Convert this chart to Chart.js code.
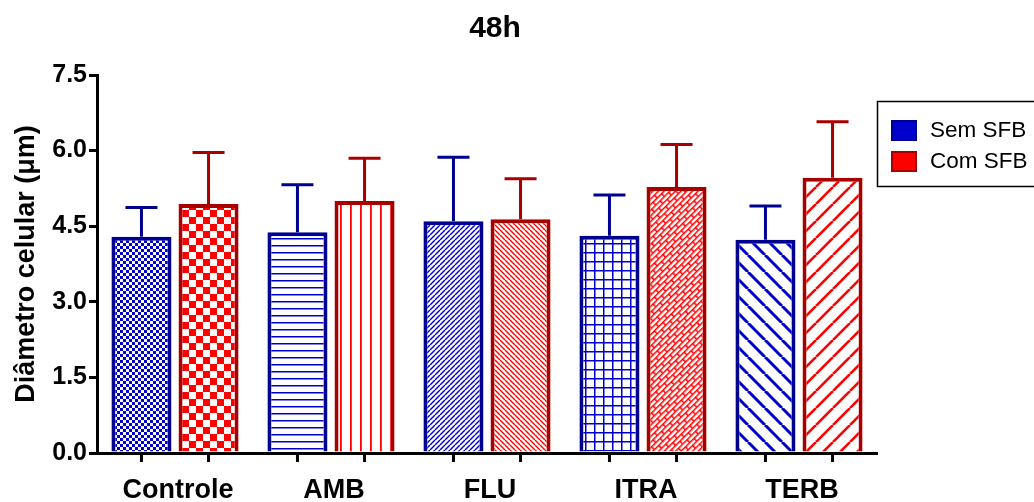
<!DOCTYPE html>
<html>
<head>
<meta charset="utf-8">
<title>48h</title>
<script src="https://cdn.jsdelivr.net/npm/chart.js@4/dist/chart.umd.min.js"></script>
<style>
  body { margin: 0; background: #fff; }
  #wrap { width: 1034px; height: 502px; }
</style>
</head>
<body>
<div id="wrap"><canvas id="chart" width="1034" height="502"></canvas></div>
<script>
const titulo = '48h';
const categorias = ['Controle', 'AMB', 'FLU', 'ITRA', 'TERB'];
const series = ['Sem SFB', 'Com SFB'];
const semSFB = [4.29, 4.38, 4.60, 4.31, 4.23];
const semSFBdp = [0.58, 0.94, 1.27, 0.81, 0.67];
const comSFB = [4.94, 5.00, 4.64, 5.28, 5.46];
const comSFBdp = [1.02, 0.85, 0.80, 0.84, 1.11];
const yTicks = [0, 1.5, 3.0, 4.5, 6.0, 7.5];

const AZUL = '#0000cc', AZUL_ESC = '#000090';
const VERM = '#ff0000', VERM_ESC = '#a80000';
const FONTE = 'Arial, "Liberation Sans", sans-serif';

document.addEventListener('DOMContentLoaded', () => {
    const ctx = document.getElementById('chart').getContext('2d');

    // small tiles for the hatch fills
    function tile(w, h, draw) {
        const c = document.createElement('canvas');
        c.width = w; c.height = h;
        const g = c.getContext('2d');
        g.fillStyle = '#fff';
        g.fillRect(0, 0, w, h);
        draw(g, w, h);
        return ctx.createPattern(c, 'repeat');
    }
    function xadrez(cor, s) {
        return tile(s * 2, s * 2, g => {
            g.fillStyle = cor;
            g.fillRect(0, 0, s, s);
            g.fillRect(s, s, s, s);
        });
    }
    function diag(cor, s, lw, barra) {
        return tile(s, s, g => {
            g.strokeStyle = cor; g.lineWidth = lw;
            for (const k of [-s, 0, s]) {
                g.beginPath();
                if (barra) { g.moveTo(k, s); g.lineTo(k + s, 0); }
                else { g.moveTo(k, 0); g.lineTo(k + s, s); }
                g.stroke();
            }
        });
    }
    const tijolo = tile(12, 8, g => {
        g.fillStyle = VERM;
        g.fillRect(0, 0, 12, 1.5);
        g.fillRect(0, 4, 12, 1.5);
        g.fillRect(0, 0, 1.5, 4);
        g.fillRect(6, 4, 1.5, 4);
    });
    tijolo.setTransform(new DOMMatrix().rotate(-45));

    const padroesSem = [
        xadrez(AZUL, 3),
        tile(6, 7, g => { g.fillStyle = AZUL; g.fillRect(0, 0, 6, 1.5); }),
        diag(AZUL, 5, 1.4, true),
        tile(9, 9, g => { g.fillStyle = AZUL; g.fillRect(0, 0, 9, 1.5); g.fillRect(0, 0, 1.5, 9); }),
        diag(AZUL, 17, 3, false)
    ];
    const padroesCom = [
        xadrez(VERM, 7),
        tile(10, 6, g => { g.fillStyle = VERM; g.fillRect(0, 0, 1.8, 6); }),
        diag(VERM, 5, 1.4, false),
        tijolo,
        diag(VERM, 17, 2.6, true)
    ];

    const erros = [semSFBdp, comSFBdp];

    const barrasErro = {
        id: 'barrasErro',
        afterDatasetsDraw(chart) {
            const c = chart.ctx, y = chart.scales.y;
            chart.data.datasets.forEach((ds, i) => {
                const meta = chart.getDatasetMeta(i);
                c.save();
                c.strokeStyle = ds.borderColor;
                c.lineWidth = 3;
                meta.data.forEach((bar, j) => {
                    const topo = y.getPixelForValue(ds.data[j] + erros[i][j]);
                    c.beginPath();
                    c.moveTo(bar.x, bar.y);
                    c.lineTo(bar.x, topo);
                    c.moveTo(bar.x - 16, topo);
                    c.lineTo(bar.x + 16, topo);
                    c.stroke();
                });
                c.restore();
            });
        }
    };

    // tick marks under each bar, title and boxed legend
    const extras = {
        id: 'extras',
        afterDraw(chart) {
            const c = chart.ctx, a = chart.chartArea;
            c.save();
            c.strokeStyle = '#000';
            c.lineWidth = 3;
            chart.data.datasets.forEach((ds, i) => {
                chart.getDatasetMeta(i).data.forEach(bar => {
                    c.beginPath();
                    c.moveTo(bar.x, a.bottom);
                    c.lineTo(bar.x, a.bottom + 9);
                    c.stroke();
                });
            });

            c.fillStyle = '#000';
            c.font = 'bold 30px ' + FONTE;
            c.textAlign = 'center';
            c.textBaseline = 'middle';
            c.fillText(titulo, 495, 29);

            c.lineWidth = 1.5;
            c.strokeRect(877.5, 101.5, 170, 85);
            c.font = '22.5px ' + FONTE;
            c.textAlign = 'left';
            chart.data.datasets.forEach((ds, i) => {
                const yy = 120 + i * 31;
                c.fillStyle = ds.borderColor;
                c.fillRect(891, yy, 26, 21);
                c.fillStyle = i === 0 ? AZUL : VERM;
                c.fillRect(893, yy + 2, 22, 17);
                c.fillStyle = '#000';
                c.fillText(ds.label, 930, yy + 11);
            });
            c.restore();
        }
    };

    new Chart(ctx, {
        type: 'bar',
        data: {
            labels: categorias,
            datasets: [{
                label: series[0],
                data: semSFB,
                backgroundColor: padroesSem,
                borderColor: AZUL_ESC,
                borderWidth: 4
            }, {
                label: series[1],
                data: comSFB,
                backgroundColor: padroesCom,
                borderColor: VERM_ESC,
                borderWidth: 4
            }]
        },
        options: {
            responsive: false,
            animation: false,
            categoryPercentage: 0.86,
            barPercentage: 0.895,
            layout: { padding: { top: 75, right: 157, left: 0, bottom: 0 } },
            plugins: {
                legend: { display: false },
                tooltip: { enabled: false }
            },
            scales: {
                x: {
                    afterFit: s => { s.height = 49; },
                    grid: { display: false, drawTicks: false },
                    border: { display: true, color: '#000', width: 3 },
                    ticks: {
                        color: '#000',
                        padding: 21,
                        labelOffset: 3,
                        font: { family: FONTE, size: 27, weight: 'bold' }
                    }
                },
                y: {
                    min: 0,
                    max: 7.5,
                    afterFit: s => { s.width = 97; },
                    afterBuildTicks: s => { s.ticks = yTicks.map(v => ({ value: v })); },
                    grid: { drawOnChartArea: false, drawTicks: true, tickLength: 8, lineWidth: 3, color: '#000', tickColor: '#000' },
                    border: { display: true, color: '#000', width: 3 },
                    ticks: {
                        color: '#000',
                        padding: 2,
                        callback: v => Number(v).toFixed(1),
                        font: { family: FONTE, size: 25, weight: 'bold' }
                    },
                    title: {
                        display: true,
                        text: 'Diâmetro celular (μm)',
                        color: '#000',
                        padding: { top: 10, bottom: 0 },
                        font: { family: FONTE, size: 27, weight: 'bold' }
                    }
                }
            }
        },
        plugins: [barrasErro, extras]
    });
});
</script>
</body>
</html>
